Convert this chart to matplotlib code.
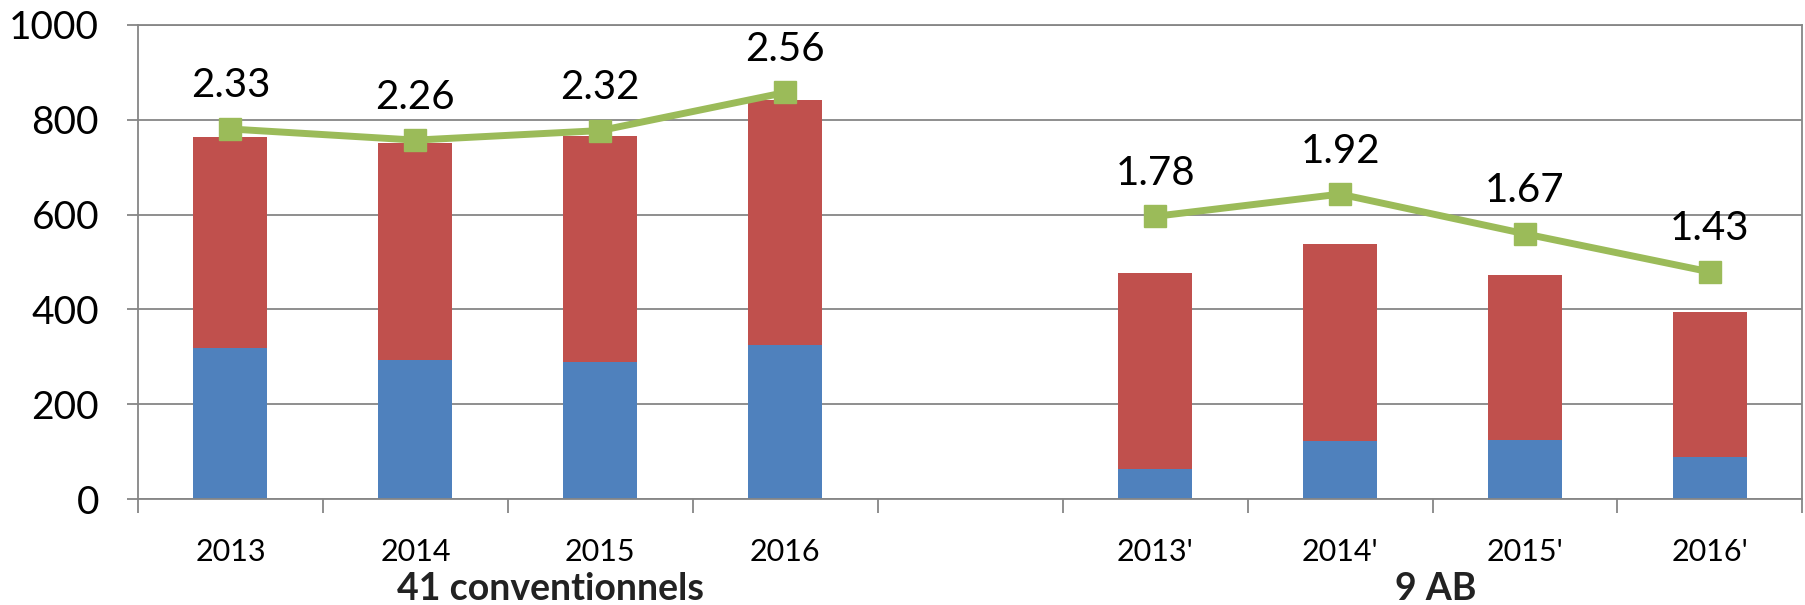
import matplotlib
matplotlib.use("Agg")
import matplotlib.pyplot as plt
import numpy as np

plt.rcParams['font.family'] = ['Lato', 'DejaVu Sans']

# Data
categories = ["2013", "2014", "2015", "2016", "", "2013'", "2014'", "2015'", "2016'"]
blue_vals = [319, 293, 288, 324, np.nan, 63, 122, 124, 88]
red_vals = [444, 458, 478, 517, np.nan, 413, 417, 349, 307]
ratio_vals = [2.33, 2.26, 2.32, 2.56, np.nan, 1.78, 1.92, 1.67, 1.43]
group_labels = ["41 conventionnels", "9 AB"]
group_pos = [1.73, 6.52]

BLUE = "#4F81BD"
RED = "#C0504D"
GREEN = "#9BBB59"
GRID = "#868686"

fig = plt.figure(figsize=(18.06, 6.05), dpi=100)
ax = fig.add_axes([0.0764, 0.1752, 0.9216, 0.7835])

x = np.arange(len(categories))
blue = np.array(blue_vals, dtype=float)
red = np.array(red_vals, dtype=float)
ax.bar(x, blue, width=0.4, color=BLUE, zorder=2)
ax.bar(x, red, width=0.4, bottom=blue, color=RED, zorder=2)

ax.set_xlim(-0.5, len(categories) - 0.5)
ax.set_ylim(0, 1000)
ax.set_yticks(range(0, 1001, 200))
ax.yaxis.grid(True, color=GRID, linewidth=1.3, zorder=0)
ax.set_axisbelow(True)
for s in ax.spines.values():
    s.set_color(GRID)
    s.set_linewidth(1.3)

# category boundaries as major ticks, labels on minor ticks at bar centres
ax.set_xticks(np.arange(-0.5, len(categories), 1.0))
ax.set_xticklabels([])
ax.set_xticks(x, minor=True)
ax.set_xticklabels(categories, minor=True, fontsize=22)
ax.tick_params(axis='x', which='major', length=10, color=GRID, width=1.3)
ax.tick_params(axis='x', which='minor', length=0, pad=28)
ax.tick_params(axis='y', length=8, color=GRID, width=1.3, labelsize=28, pad=20)

for lbl, pos in zip(group_labels, group_pos):
    ax.text(pos, -0.19, lbl, transform=ax.get_xaxis_transform(),
            ha='center', va='center', fontsize=27, fontweight='bold', color='#222222')

# ratio line on a hidden secondary scale
ax2 = ax.twinx()
ax2.set_ylim(0, 2.985)
ax2.axis('off')
ratios = np.array(ratio_vals, dtype=float)
for idx in ([0, 1, 2, 3], [5, 6, 7, 8]):
    ax2.plot(x[idx], ratios[idx], color=GREEN, linewidth=5, marker='s',
             markersize=16, zorder=3)
    for i in idx:
        ax2.annotate(f"{ratios[i]:.2f}", (x[i], ratios[i]), xytext=(0, 31),
                     textcoords='offset points', ha='center', va='center',
                     fontsize=29)

fig.savefig("out.png", dpi=100)
